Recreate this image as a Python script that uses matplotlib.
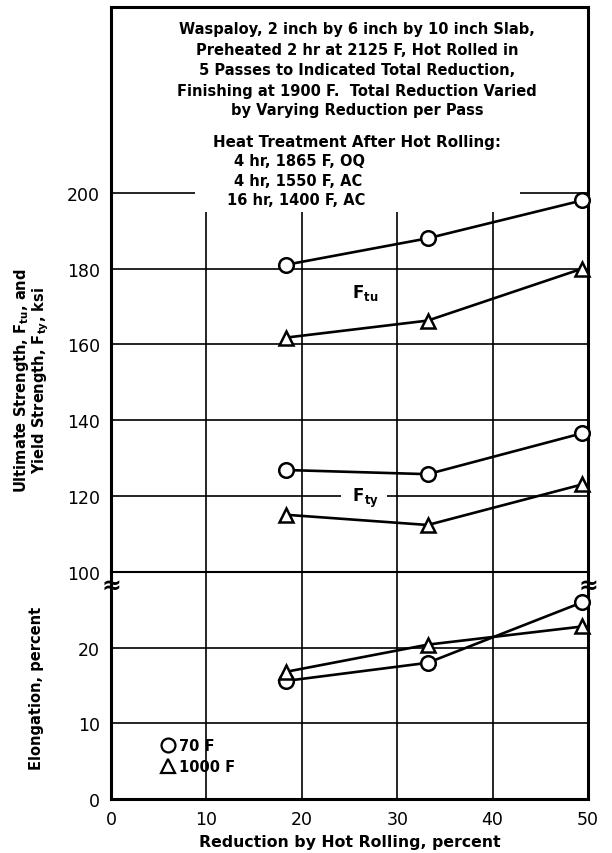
import matplotlib
matplotlib.use("Agg")
import matplotlib.pyplot as plt
from matplotlib.patches import Rectangle
from matplotlib.lines import Line2D

plt.rcParams["font.family"] = ["DejaVu Sans"]
plt.rcParams["mathtext.fontset"] = "custom"
plt.rcParams["mathtext.rm"] = "DejaVu Sans"
plt.rcParams["mathtext.bf"] = "DejaVu Sans:bold"

# data
reduction = [18.3, 33.2, 49.4]
ftu_70 = [181.0, 188.0, 198.0]
ftu_1000 = [161.8, 166.3, 180.0]
fty_70 = [126.9, 125.8, 136.6]
fty_1000 = [115.1, 112.4, 123.1]
elong_70 = [15.6, 18.0, 26.0]
elong_1000 = [16.8, 20.4, 22.8]

x_ticks = [0, 10, 20, 30, 40, 50]
strength_ticks = [100, 120, 140, 160, 180, 200]
elong_ticks = [0, 10, 20]

title_lines = [
    "Waspaloy, 2 inch by 6 inch by 10 inch Slab,",
    "Preheated 2 hr at 2125 F, Hot Rolled in",
    "5 Passes to Indicated Total Reduction,",
    "Finishing at 1900 F.  Total Reduction Varied",
    "by Varying Reduction per Pass",
]
heat_title = "Heat Treatment After Hot Rolling:"
heat_lines = ["4 hr, 1865 F, OQ", "4 hr, 1550 F, AC", "16 hr, 1400 F, AC"]

GRID_LW = 1.2
SPINE_LW = 2.2
LINE_LW = 1.9
FS = 10.5

fig = plt.figure(figsize=(6.12, 8.54), dpi=100)
L, W = 111 / 612, 477 / 612
ax_top = fig.add_axes([L, (854 - 573) / 854, W, 565 / 854])
ax_bot = fig.add_axes([L, (854 - 800) / 854, W, 227 / 854])

for ax in (ax_top, ax_bot):
    ax.set_xlim(0, 50)
    ax.set_xticks(x_ticks)
    ax.set_axisbelow(True)
    ax.grid(True, color="black", lw=GRID_LW)
    ax.tick_params(length=0, labelsize=12.5, pad=8)
    for s in ax.spines.values():
        s.set_linewidth(SPINE_LW)

ax_top.set_ylim(100, 249)
ax_top.set_yticks(strength_ticks)
ax_top.tick_params(labelbottom=False)
ax_top.spines["bottom"].set_visible(False)

ax_bot.set_ylim(0, 30)
ax_bot.set_yticks(elong_ticks)
ax_bot.spines["top"].set_linewidth(GRID_LW + 0.3)

# white area for the note box
ax_top.add_patch(Rectangle((0, 201), 50, 60, facecolor="white", edgecolor="none", zorder=1))
ax_top.add_patch(Rectangle((8.8, 194.9), 34.1, 7, facecolor="white", edgecolor="none", zorder=1))

circ = dict(marker="o", ms=10.5, mfc="white", mec="black", mew=1.8, color="black", lw=LINE_LW)
tri = dict(marker="^", ms=9.5, mfc="white", mec="black", mew=1.8, color="black", lw=LINE_LW)

ax_top.plot(reduction, ftu_70, clip_on=False, zorder=3, **circ)
ax_top.plot(reduction, ftu_1000, clip_on=False, zorder=3, **tri)
ax_top.plot(reduction, fty_70, clip_on=False, zorder=3, **circ)
ax_top.plot(reduction, fty_1000, clip_on=False, zorder=3, **tri)
ax_bot.plot(reduction, elong_70, clip_on=False, zorder=3, **circ)
ax_bot.plot(reduction, elong_1000, clip_on=False, zorder=3, **tri)

# note text
title_y = [243.2, 237.7, 232.4, 227.1, 222.1]
for line, y in zip(title_lines, title_y):
    ax_top.text(25.8, y, line, ha="center", va="center", fontsize=FS,
                fontweight="bold", zorder=4)
ax_top.text(25.8, 213.4, heat_title, ha="center", va="center", fontsize=10.9,
            fontweight="bold", zorder=4)
heat_x = [12.9, 12.9, 12.2]
heat_y = [208.4, 203.3, 198.3]
for line, x, y in zip(heat_lines, heat_x, heat_y):
    ax_top.text(x, y, line, ha="left", va="center", fontsize=FS,
                fontweight="bold", zorder=4)

# curve labels
ax_top.text(26.6, 173.8, r"$\mathbf{F}_{\mathbf{tu}}$", ha="center", va="center",
            fontsize=12, zorder=4)
ax_top.text(26.5, 119.6, r"  $\mathbf{F}_{\mathbf{ty}}$  ", ha="center", va="center",
            fontsize=12, zorder=2.5,
            bbox=dict(facecolor="white", edgecolor="none", pad=1))

# axis labels
ax_top.set_ylabel("Ultimate Strength, $\\mathbf{F}_{\\mathbf{tu}}$, and\n"
                  "Yield Strength, $\\mathbf{F}_{\\mathbf{ty}}$, ksi",
                  fontsize=FS, fontweight="bold", linespacing=1.0)
ax_top.yaxis.set_label_coords(-0.125, 0.34)
ax_bot.set_ylabel("Elongation, percent", fontsize=FS, fontweight="bold")
ax_bot.yaxis.set_label_coords(-0.14, 0.49)
ax_bot.set_xlabel("Reduction by Hot Rolling, percent", fontsize=11.3,
                  fontweight="bold", labelpad=4)

# axis break marks
for xb in (0, 50):
    ax_bot.text(xb, 28.3, "\u2248", ha="center", va="center", fontsize=17,
                fontweight="bold", clip_on=False, zorder=5)

# legend
handles = [
    Line2D([], [], ls="none", marker="o", ms=10, mfc="white", mec="black", mew=1.6),
    Line2D([], [], ls="none", marker="^", ms=10, mfc="white", mec="black", mew=1.6),
]
leg = ax_bot.legend(handles, ["70 F", "1000 F"], loc="upper left",
                    bbox_to_anchor=(0.093, 0.3), frameon=False,
                    handlelength=0.8, handletextpad=0.3, labelspacing=0.4,
                    borderpad=0, prop=dict(weight="bold", size=FS))

fig.savefig("out.png", dpi=100)
